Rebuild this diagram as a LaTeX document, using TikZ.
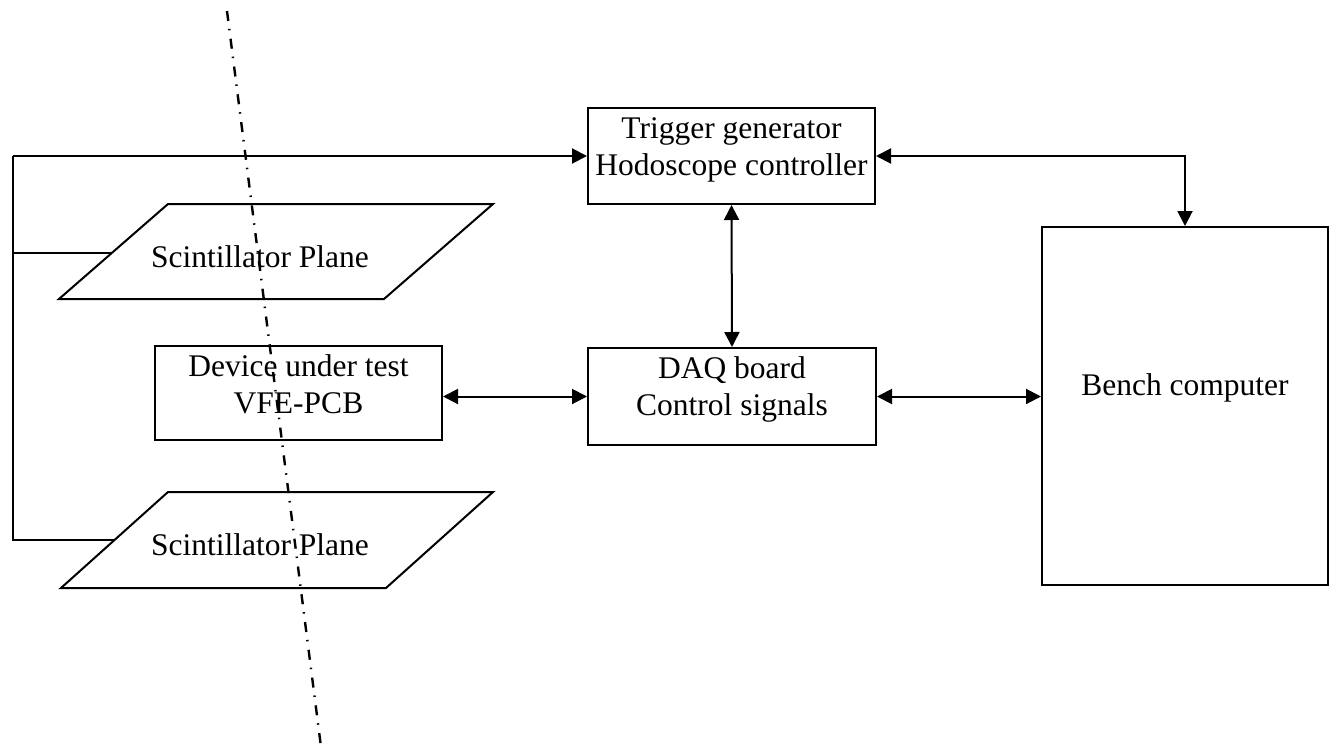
\documentclass[tikz,border=0pt]{standalone}
\usepackage{fontspec}
\setmainfont{Liberation Serif}
\usetikzlibrary{arrows.meta}
\begin{document}
\begin{tikzpicture}[x=1pt,y=-1pt,
  line width=2pt,
  box/.style={draw, rectangle, inner sep=0pt, line width=2pt},
  txt/.style={anchor=base, inner sep=0pt, font=\fontsize{31.5}{37}\selectfont},
  dbl/.style={{Triangle[length=15pt,width=15pt]}-{Triangle[length=15pt,width=15pt]}},
  sgl/.style={-{Triangle[length=15pt,width=15pt]}},
  axis/.style={line width=2.4pt, dash pattern=on 10pt off 8pt on 1.5pt off 8.5pt}]
\useasboundingbox (0,0) rectangle (1336,747);
% boxes
\node[box, minimum width=287pt, minimum height=96pt] (trig) at (731.5,156) {};
\node[box, minimum width=288pt, minimum height=97pt] (daq) at (732,396.5) {};
\node[box, minimum width=287pt, minimum height=94pt] (dut) at (298.5,393) {};
\node[box, minimum width=286pt, minimum height=358pt] (bench) at (1185,406) {};
% texts
\node[txt] (t1) at (731.5,138) {Trigger generator};
\node[txt] (t2) at (731.5,175) {Hodoscope controller};
\node[txt] (d1) at (732,378) {DAQ board};
\node[txt] (d2) at (732,415) {Control signals};
\node[txt] (u1) at (298.5,376) {Device under test};
\node[txt] (u2) at (298.5,413) {VFE-PCB};
\node[txt] (b1) at (1185,395) {Bench computer};
% scintillator planes
\draw (168,204) -- (493,204) -- (384,299) -- (59,299) -- cycle;
\draw (168,492) -- (493,492) -- (386,588) -- (61,588) -- cycle;
\node[txt] (s1) at (260,267) {Scintillator Plane};
\node[txt] (s2) at (260,555) {Scintillator Plane};
\coordinate (sp1l) at (112,253);
\coordinate (sp2l) at (114,540);
% left wiring
\coordinate (wtop) at (13,156);
\coordinate (wmid) at (13,253);
\coordinate (wbot) at (13,540);
\draw[sgl] (wtop) -- (trig.west);
\draw (wtop) -- (wbot) -- (sp2l);
\draw (wmid) -- (sp1l);
% connectors
\draw[dbl] (trig.east) -| (bench.north);
\draw[dbl] (trig.south) -- (daq.north);
\draw[dbl] (daq.west -| dut.east) -- (daq.west);
\draw[dbl] (daq.east) -- (daq.east -| bench.west);
% dash-dot axis
\coordinate (ax1) at (227,11);
\coordinate (ax2) at (321,747);
\draw[axis] (ax1) -- (ax2);
\end{tikzpicture}
\end{document}
